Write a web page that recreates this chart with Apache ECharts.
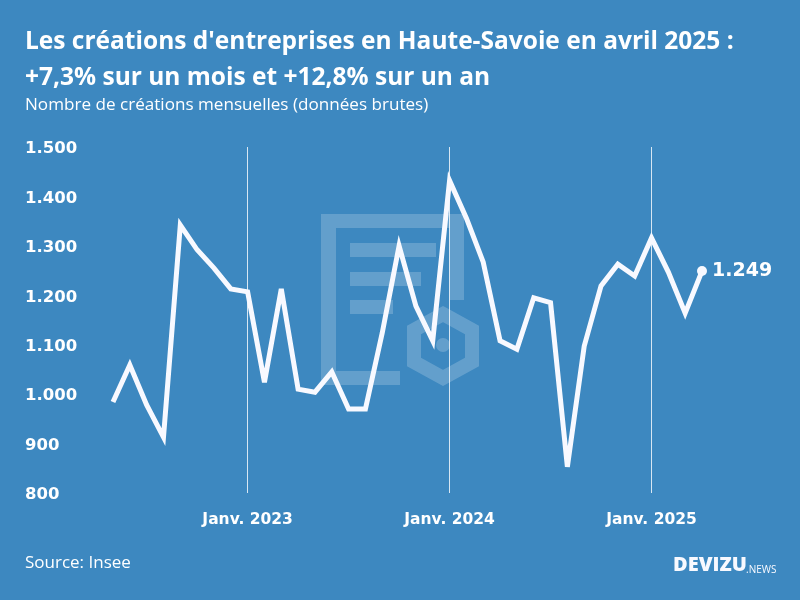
<!DOCTYPE html>
<html><head><meta charset="utf-8">
<style>html,body{margin:0;padding:0;background:#3d88c0}#c{width:800px;height:600px}</style>
<script src="https://cdn.jsdelivr.net/npm/echarts@6/dist/echarts.min.js"></script>
</head><body><div id="c"></div>
<script>
const months=['Mai 2022','Juin 2022','Juil. 2022','Août 2022','Sept. 2022','Oct. 2022','Nov. 2022','Déc. 2022',
'Janv. 2023','Févr. 2023','Mars 2023','Avr. 2023','Mai 2023','Juin 2023','Juil. 2023','Août 2023','Sept. 2023','Oct. 2023','Nov. 2023','Déc. 2023',
'Janv. 2024','Févr. 2024','Mars 2024','Avr. 2024','Mai 2024','Juin 2024','Juil. 2024','Août 2024','Sept. 2024','Oct. 2024','Nov. 2024','Déc. 2024',
'Janv. 2025','Févr. 2025','Mars 2025','Avr. 2025'];
const creations=[984,1059,978,913,1342,1292,1255,1213,
1207,1024,1213,1010,1004,1045,970,970,1124,1300,1178,1108,
1432,1356,1267,1108,1091,1195,1185,853,1097,1219,1263,1239,
1316,1247,1164,1249];
const titleText="Les créations d'entreprises en Haute-Savoie en avril 2025 :\n+7,3% sur un mois et +12,8% sur un an";
const subtitleText="Nombre de créations mensuelles (données brutes)";
const sourceText="Source: Insee";
const FONT='"Open Sans"';
const AXISFONT='"DejaVu Sans"';
const W='rgba(255,255,255,0.2)';
const fmt=v=>String(v).replace(/\B(?=(\d{3})+$)/,'.');
const last=creations.length-1;
const rect=(x,y,w,h)=>({type:'rect',silent:true,z:-1,shape:{x,y,width:w,height:h},style:{fill:W}});
const chart=echarts.init(document.getElementById('c'));
chart.setOption({
  animation:false,
  backgroundColor:'#3d88c0',
  textStyle:{fontFamily:FONT},
  title:[
    {text:titleText,left:20,top:19,textStyle:{color:'#fff',fontFamily:FONT,fontWeight:700,fontSize:24.5,lineHeight:36}},
    {text:subtitleText,left:20,top:92,textStyle:{color:'#fff',fontFamily:FONT,fontWeight:400,fontSize:17.1}},
    {text:sourceText,left:20,top:550,textStyle:{color:'#fff',fontFamily:FONT,fontWeight:400,fontSize:17}}
  ],
  grid:{left:113,right:98,top:147,bottom:107,containLabel:false},
  xAxis:{type:'category',data:months,boundaryGap:false,
    axisLine:{show:false},axisTick:{show:false},
    axisLabel:{interval:(i,n)=>n.startsWith('Janv.'),color:'#fff',fontFamily:AXISFONT,fontWeight:700,fontSize:15.5,margin:19,hideOverlap:false},
    splitLine:{show:true,interval:(i,n)=>n.startsWith('Janv.'),lineStyle:{color:'rgba(255,255,255,0.8)',width:1}}
  },
  yAxis:{type:'value',min:800,max:1500,interval:100,
    axisLine:{show:false},axisTick:{show:false},splitLine:{show:false},
    axisLabel:{formatter:v=>'{a|'+fmt(v)+'}',align:'left',margin:88,
      rich:{a:{color:'#fff',fontFamily:AXISFONT,fontWeight:700,fontSize:16.5,padding:[4,0,0,0]}}}
  },
  series:[{type:'line',data:creations,smooth:false,z:5,
    showSymbol:true,showAllSymbol:true,
    symbol:(v,p)=>p.dataIndex===last?'circle':'none',symbolSize:10,
    itemStyle:{color:'#f8f9ff'},
    lineStyle:{color:'#f8f9ff',width:5,join:'miter',miterLimit:5,cap:'butt'},
    endLabel:{show:true,formatter:p=>fmt(p.value),color:'#fff',fontFamily:AXISFONT,fontWeight:700,fontSize:19,distance:10},
    emphasis:{disabled:true}
  }],
  graphic:[
    rect(321,214,143,14),rect(321,228,15,157),rect(336,371,64,14),rect(450,228,14,72),
    rect(350,243,86,14),rect(350,272,71,14),rect(350,300,43,14),
    {type:'polygon',silent:true,z:-1,shape:{points:[[443,314],[472,330],[472,362],[443,378],[414,362],[414,330]]},style:{fill:'none',stroke:W,lineWidth:14,lineJoin:'miter'}},
    {type:'circle',silent:true,z:-1,shape:{cx:443,cy:345,r:7},style:{fill:W}},
    {type:'text',silent:true,left:673,top:555,style:{text:'DEVIZU',fill:'#f8f9ff',font:'800 20px '+FONT}},
    {type:'text',silent:true,left:746,top:565,style:{text:'.NEWS',fill:'#f8f9ff',font:'400 10px '+FONT}}
  ]
});
</script></body></html>
